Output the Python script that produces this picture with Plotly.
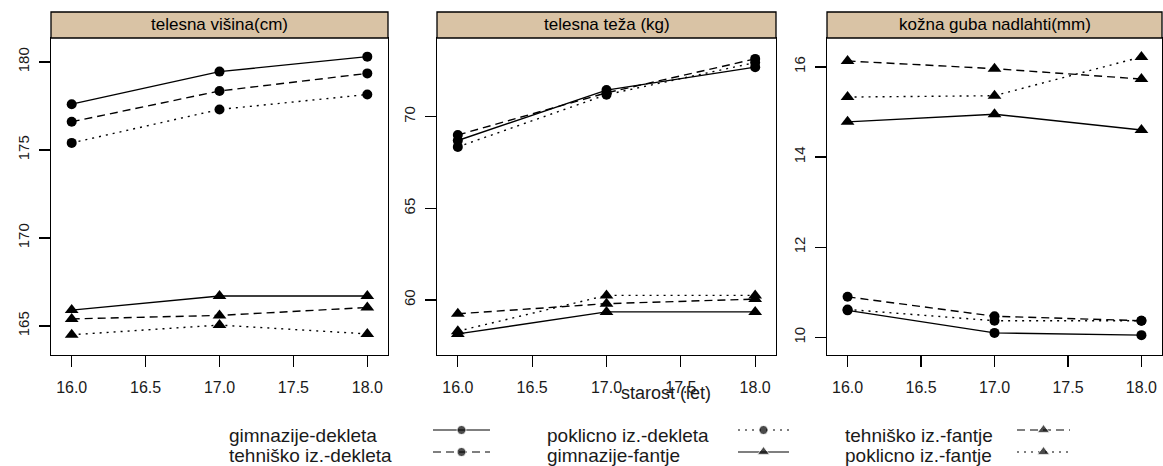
import plotly.graph_objects as go

# ---------------- data ----------------
age = [16, 17, 18]
x_tick_vals = [16.0, 16.5, 17.0, 17.5, 18.0]
x_tick_text = ["16.0", "16.5", "17.0", "17.5", "18.0"]

groups = ["gimnazije-dekleta", "tehniško iz.-dekleta", "poklicno iz.-dekleta",
          "gimnazije-fantje", "tehniško iz.-fantje", "poklicno iz.-fantje"]
panel_titles = ["telesna višina(cm)", "telesna teža (kg)", "kožna guba nadlahti(mm)"]
x_title = "starost (let)"

# telesna višina (cm)
visina_gim_dek = [177.6, 179.45, 180.3]
visina_teh_dek = [176.6, 178.35, 179.35]
visina_pok_dek = [175.4, 177.3, 178.15]
visina_gim_fan = [165.9, 166.7, 166.7]
visina_teh_fan = [165.4, 165.6, 166.05]
visina_pok_fan = [164.5, 165.05, 164.55]

# telesna teža (kg)
teza_gim_dek = [68.7, 71.45, 72.7]
teza_teh_dek = [69.0, 71.3, 73.15]
teza_pok_dek = [68.35, 71.2, 72.95]
teza_gim_fan = [58.15, 59.35, 59.35]
teza_teh_fan = [59.25, 59.8, 60.05]
teza_pok_fan = [58.3, 60.25, 60.25]

# kožna guba nadlahti (mm)
guba_gim_dek = [10.6, 10.1, 10.05]
guba_teh_dek = [10.9, 10.47, 10.37]
guba_pok_dek = [10.62, 10.37, 10.37]
guba_gim_fan = [14.78, 14.95, 14.6]
guba_teh_fan = [16.13, 15.96, 15.73]
guba_pok_fan = [15.33, 15.36, 16.22]

y_ticks = [[165, 170, 175, 180], [60, 65, 70], [10, 12, 14, 16]]

# legend layout order (row-wise, 3 columns)
legend_rows = [["gimnazije-dekleta", "poklicno iz.-dekleta", "tehniško iz.-fantje"],
               ["tehniško iz.-dekleta", "gimnazije-fantje", "poklicno iz.-fantje"]]

# ---------------- styles / layout ----------------
W, H = 1163, 466
def fx(px):  # pixel x -> paper
    return px / W
def fy(py):  # pixel y (from top) -> paper
    return 1 - py / H

panel_px = [(51, 388), (437, 776), (827, 1162)]
plot_top, plot_bot, strip_top = 38, 355, 12
y_ranges = [[163.35, 181.36], [57.0, 74.29], [9.61, 16.64]]
x_range = [15.86, 18.14]
strip_col = "#D9C3A5"
FONT = "Arial, Liberation Sans, sans-serif"

dash_of = {"gimnazije": "solid", "tehniško": "8px,5px", "poklicno": "2px,5px"}
def style(g):
    school = g.split("-")[0].split(" ")[0]
    dash = dash_of[school]
    girl = g.endswith("dekleta")
    return dash, ("circle" if girl else "triangle-up"), (10 if girl else 12)

panels = [
    dict(zip(groups, [visina_gim_dek, visina_teh_dek, visina_pok_dek,
                      visina_gim_fan, visina_teh_fan, visina_pok_fan])),
    dict(zip(groups, [teza_gim_dek, teza_teh_dek, teza_pok_dek,
                      teza_gim_fan, teza_teh_fan, teza_pok_fan])),
    dict(zip(groups, [guba_gim_dek, guba_teh_dek, guba_pok_dek,
                      guba_gim_fan, guba_teh_fan, guba_pok_fan])),
]

fig = go.Figure()
shapes, annotations = [], []
ydom = [fy(plot_bot), fy(plot_top)]

for i, pdata in enumerate(panels):
    sfx = "" if i == 0 else str(i + 1)
    for g in groups:
        dash, sym, msize = style(g)
        fig.add_trace(go.Scatter(
            x=age, y=pdata[g], mode="lines+markers", name=g,
            xaxis="x" + sfx, yaxis="y" + sfx, showlegend=False,
            line=dict(color="black", width=1.4, dash=dash),
            marker=dict(symbol=sym, size=msize, color="black"),
        ))
    x0, x1 = panel_px[i]
    fig.layout["xaxis" + sfx] = dict(
        domain=[fx(x0), fx(x1)], range=x_range, tickvals=x_tick_vals, ticktext=x_tick_text,
        showgrid=False, zeroline=False, showline=True, mirror=True,
        linecolor="black", linewidth=1.3, ticks="outside", ticklen=11,
        tickcolor="black", tickwidth=1.3, anchor="y" + sfx,
        tickfont=dict(family=FONT, size=16, color="#1a1a1a"),
        ticklabelstandoff=6, automargin=False, fixedrange=True,
    )
    fig.layout["yaxis" + sfx] = dict(
        domain=ydom, range=y_ranges[i], tickvals=y_ticks[i],
        showgrid=False, zeroline=False, showline=True, mirror=True,
        linecolor="black", linewidth=1.3, ticks="outside", ticklen=11,
        tickcolor="black", tickwidth=1.3, anchor="x" + sfx, tickangle=-90,
        tickfont=dict(family=FONT, size=15, color="#1a1a1a"),
        ticklabelstandoff=4, automargin=False, fixedrange=True,
    )
    # strip
    shapes.append(dict(type="rect", xref="paper", yref="paper",
                       x0=fx(x0), x1=fx(x1), y0=fy(plot_top), y1=fy(strip_top),
                       fillcolor=strip_col, line=dict(color="black", width=1.3),
                       layer="above"))
    annotations.append(dict(xref="paper", yref="paper", x=fx((x0 + x1) / 2),
                            y=fy((plot_top + strip_top) / 2), text=panel_titles[i],
                            showarrow=False, xanchor="center", yanchor="middle",
                            font=dict(family=FONT, size=17, color="black")))

# x axis title
annotations.append(dict(xref="paper", yref="paper", x=fx(666), y=fy(393),
                        text=x_title, showarrow=False, xanchor="center", yanchor="middle",
                        font=dict(family=FONT, size=18, color="#1a1a1a")))

# legend key (manual, drawn on an overlay axis in pixel units of the key area)
key_top, key_bot = 418, 466
text_x = [227, 545, 843]
sample_x = [(433, 490), (738, 789), (1017, 1070)]
row_text_y = [435, 455]
row_line_y = [430, 452]
for r, row in enumerate(legend_rows):
    for c, g in enumerate(row):
        dash, sym, msize = style(g)
        sx0, sx1 = sample_x[c]
        yy = row_line_y[r]
        fig.add_trace(go.Scatter(
            x=[sx0, (sx0 + sx1) / 2, sx1], y=[yy, yy, yy], mode="lines+markers",
            xaxis="x4", yaxis="y4", showlegend=False, hoverinfo="skip",
            line=dict(color="black", width=1.2, dash=dash),
            marker=dict(symbol=sym, size=[0, msize - 1, 0], color="black"),
        ))
        annotations.append(dict(xref="paper", yref="paper", x=fx(text_x[c]),
                                y=fy(row_text_y[r]), text=g, showarrow=False,
                                xanchor="left", yanchor="middle",
                                font=dict(family=FONT, size=19, color="#1a1a1a")))

fig.layout["xaxis4"] = dict(domain=[0, 1], range=[0, W], visible=False,
                            anchor="y4", fixedrange=True)
fig.layout["yaxis4"] = dict(domain=[0, fy(key_top)], range=[key_bot, key_top],
                            visible=False, anchor="x4", fixedrange=True)

fig.update_layout(
    width=W, height=H, margin=dict(l=0, r=0, t=0, b=0),
    paper_bgcolor="white", plot_bgcolor="rgba(0,0,0,0)",
    shapes=shapes, annotations=annotations, showlegend=False,
)

fig.write_html(
    "out.html",
    config={"displayModeBar": False, "staticPlot": True},
    post_script="document.body.style.margin='0px';document.body.style.overflow='hidden';",
)
